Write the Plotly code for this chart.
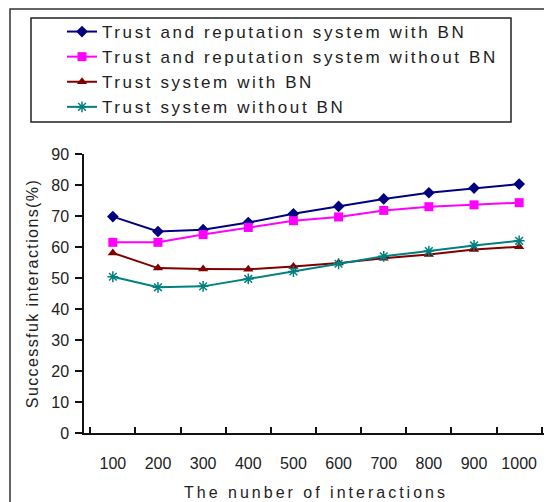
import plotly.graph_objects as go

categories = ["100", "200", "300", "400", "500", "600", "700", "800", "900", "1000"]
tr_with_bn = [69.8, 65.0, 65.6, 67.9, 70.7, 73.1, 75.5, 77.5, 79.0, 80.3]
tr_without_bn = [61.5, 61.5, 64.0, 66.3, 68.5, 69.7, 71.8, 73.0, 73.6, 74.3]
t_with_bn = [58.1, 53.2, 52.9, 52.8, 53.7, 54.8, 56.4, 57.6, 59.2, 60.1]
t_without_bn = [50.4, 47.0, 47.3, 49.7, 52.1, 54.6, 57.0, 58.7, 60.5, 62.0]

names = [
    "Trust and reputation system with BN",
    "Trust and reputation system without BN",
    "Trust system with BN",
    "Trust system without BN",
]
colors = ["#000080", "#FF00FF", "#800000", "#008080"]
symbols = ["diamond", "square", "triangle-up", "asterisk"]
series = [tr_with_bn, tr_without_bn, t_with_bn, t_without_bn]

def spaced(s, px):
    return '<span style="letter-spacing:%spx">%s</span>' % (px, s)

fig = go.Figure()
for name, vals, col, sym in zip(names, series, colors, symbols):
    marker = dict(symbol=sym, size=9, color=col, line=dict(color=col, width=1.5 if sym == "asterisk" else 0))
    fig.add_trace(go.Scatter(
        x=categories, y=vals, name=spaced(name, 2.6), mode="lines+markers",
        line=dict(color=col, width=2), marker=marker,
    ))

# page body has an 8px margin, so the figure is drawn 8px in from the window corner
OFF = 8
W, H = 552 - OFF, 502 - OFF
L, R, T, B = 84 - OFF, W - (548 - OFF), 154 - OFF, H - (433 - OFF)
pw, ph = W - L - R, H - T - B

def px(x):
    return (x - OFF - L) / pw

def py(y):
    return (H - B - (y - OFF)) / ph

fig.update_layout(
    width=W, height=H, autosize=False,
    margin=dict(l=L, r=R, t=T, b=B, pad=0, autoexpand=False),
    paper_bgcolor="white", plot_bgcolor="white",
    font=dict(family="Arial", size=16, color="#222"),
    showlegend=True,
    legend=dict(
        x=px(62), y=py(14), xanchor="left", yanchor="top",
        bgcolor="rgba(0,0,0,0)", borderwidth=0,
        font=dict(family="Arial", size=17, color="#222"),
        tracegroupgap=0,
    ),
    xaxis=dict(
        type="category", categoryorder="array", categoryarray=categories,
        showline=True, linecolor="#111", linewidth=1.5,
        ticks="inside", tickson="boundaries", ticklen=6, tickcolor="#111", tickwidth=1.5,
        showgrid=False, zeroline=False, ticklabelstandoff=15, tickangle=0,
        automargin=False,
        tickfont=dict(size=16, color="#222"),
        title=dict(text=spaced("The nunber of interactions", 3), font=dict(size=16, color="#222"), standoff=16),
    ),
    yaxis=dict(
        range=[0, 90], dtick=10, tick0=0,
        showline=True, linecolor="#111", linewidth=1.5,
        ticks="outside", ticklen=7, tickcolor="#111", tickwidth=1.5,
        showgrid=False, zeroline=False, ticklabelstandoff=3,
        automargin=False,
        tickfont=dict(size=16, color="#222"),
        title=dict(text=spaced("Successfuk interactions(%)", 1.4), font=dict(size=16, color="#222"), standoff=9),
    ),
    shapes=[
        dict(type="rect", xref="paper", yref="paper",
             x0=px(31), x1=px(511), y0=py(122), y1=py(18),
             line=dict(color="#222", width=1.5), fillcolor="rgba(0,0,0,0)"),
        dict(type="rect", xref="paper", yref="paper",
             x0=px(10), x1=px(600), y0=py(560), y1=py(9),
             line=dict(color="#333", width=1.5), fillcolor="rgba(0,0,0,0)"),
    ],
)

fig.write_html("out.html")
